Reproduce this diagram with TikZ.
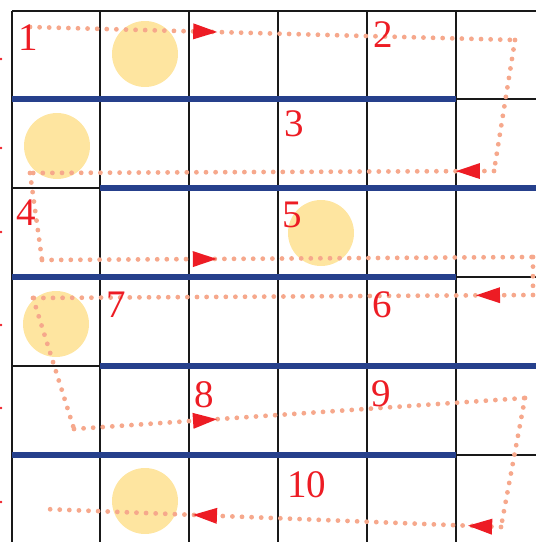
\documentclass[tikz,border=0pt]{standalone}
\usepackage{fontspec}
\setmainfont{Liberation Serif}
\usetikzlibrary{arrows.meta, decorations.markings}
\definecolor{laneblue}{RGB}{38,64,140}
\definecolor{trailpink}{RGB}{246,168,140}
\definecolor{sunyellow}{RGB}{254,229,160}
\definecolor{markred}{RGB}{237,28,36}

\begin{document}
\begin{tikzpicture}[
    x=1pt, y=-1pt,
    gridline/.style={line width=1.8pt, draw=black!90},
    lane/.style={line width=6.5pt, draw=laneblue},
    coin/.style={circle, fill=sunyellow, minimum size=66pt, inner sep=0pt},
    num/.style={anchor=base west, inner sep=0pt, text=markred, font=\fontsize{39}{39}\selectfont},
    trail/.style={draw=trailpink, line width=4.8pt, line cap=round, dash pattern=on 0pt off 9.6pt},
    tipat/.style={postaction={decorate, solid, decoration={markings,
      mark=at position #1 with {\arrow{Triangle[length=24pt, width=16pt, line width=0pt, color=markred]}}}}}
  ]
  \useasboundingbox (0,0) rectangle (536,542);

  % Coins
  \node (coin1) [coin] at (145,54) {};
  \node (coin2) [coin] at (57,146) {};
  \node (coin3) [coin] at (321,233) {};
  \node (coin4) [coin] at (56,324) {};
  \node (coin5) [coin] at (145,501) {};

  % Grid
  \draw[gridline] (12,11) -- (536,11);
  \foreach \x in {12,100,189,278,367,456}
    \draw[gridline] (\x,11) -- (\x,542);
  \foreach \y in {99,188,277,366,455}
    \draw[gridline] (12,\y) -- (536,\y);

  % Blue lanes
  \draw[lane] (12,99) -- (456,99);
  \draw[lane] (100,188) -- (536,188);
  \draw[lane] (12,277) -- (456,277);
  \draw[lane] (100,366) -- (536,366);
  \draw[lane] (12,455) -- (456,455);

  % Left edge marks
  \foreach \y in {59,148,232,325,408,502}
    \fill[markred] (1,\y) circle (1.3pt);

  % Trail corners
  \coordinate (w1) at (30,27);
  \coordinate (w2) at (515,40);
  \coordinate (w3) at (494,171);
  \coordinate (w4) at (30,173);
  \coordinate (w5) at (42,260);
  \coordinate (w6) at (533,257);
  \coordinate (w7) at (533,295);
  \coordinate (w8) at (33,298);
  \coordinate (w9) at (74,429);
  \coordinate (w10) at (525,398);
  \coordinate (w11) at (501,527);
  \coordinate (w12) at (44,509);

  % Trail
  \draw[trail, tipat=0.386] (w1) -- (w2);
  \draw[trail] (w2) -- (w3);
  \draw[trail, tipat=0.082] (w3) -- (w4);
  \draw[trail] (w4) -- (w5);
  \draw[trail, tipat=0.356] (w5) -- (w6);
  \draw[trail] (w6) -- (w7);
  \draw[trail, tipat=0.114] (w7) -- (w8);
  \draw[trail] (w8) -- (w9);
  \draw[trail, tipat=0.317] (w9) -- (w10);
  \draw[trail] (w10) -- (w11);
  \draw[trail, tipat=0.072, tipat=0.674] (w11) -- (w12);

  % Step numbers
  \node (n1) [num] at (18,50) {1};
  \node (n2) [num] at (373,47) {2};
  \node (n3) [num] at (284,136) {3};
  \node (n4) [num] at (16,225) {4};
  \node (n5) [num] at (282,227) {5};
  \node (n6) [num] at (372,317) {6};
  \node (n7) [num] at (106,317) {7};
  \node (n8) [num] at (194,407) {8};
  \node (n9) [num] at (371,406) {9};
  \node (n10) [num] at (287,497) {10};
\end{tikzpicture}
\end{document}
